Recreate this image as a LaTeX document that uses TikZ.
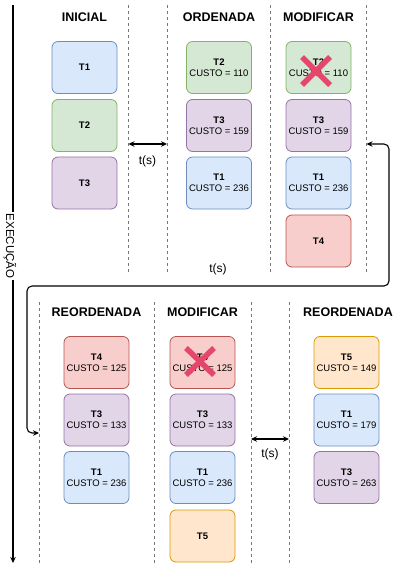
\documentclass[tikz,border=0pt]{standalone}
\usepackage{fontspec}
\setmainfont{Liberation Sans}
\usetikzlibrary{arrows.meta}
\definecolor{blueF}{HTML}{DAE8FC}\definecolor{blueD}{HTML}{6C8EBF}
\definecolor{greenF}{HTML}{D5E8D4}\definecolor{greenD}{HTML}{82B366}
\definecolor{purpF}{HTML}{E1D5E7}\definecolor{purpD}{HTML}{9673A6}
\definecolor{redF}{HTML}{F8CECC}\definecolor{redD}{HTML}{B85450}
\definecolor{orgF}{HTML}{FFE6CC}\definecolor{orgD}{HTML}{D79B00}
\definecolor{sepgray}{HTML}{777777}
\definecolor{xred}{HTML}{E6466C}
\begin{document}
\begin{tikzpicture}[x=1pt,y=-1pt,
  task/.style={draw, rounded corners=6pt, minimum width=65pt, minimum height=52pt,
    inner sep=0pt, align=center, font=\fontsize{9.5}{11}\selectfont, line width=0.8pt},
  tblue/.style={task, fill=blueF, draw=blueD},
  tgreen/.style={task, fill=greenF, draw=greenD},
  tpurp/.style={task, fill=purpF, draw=purpD},
  tred/.style={task, fill=redF, draw=redD},
  torg/.style={task, fill=orgF, draw=orgD},
  head/.style={font=\fontsize{12.5}{14}\selectfont\bfseries},
  tlabel/.style={font=\fontsize{12}{14}\selectfont},
  sepline/.style={draw=sepgray, dash pattern=on 3pt off 3pt, line width=0.9pt},
  tarrow/.style={{Stealth[length=6pt,width=5.5pt]}-{Stealth[length=6pt,width=5.5pt]}, line width=1.1pt},
  axisline/.style={-{Stealth[length=6pt,width=5.5pt]}, line width=1.2pt},
  xmark/.style={draw=xred, line width=5.5pt}]
\useasboundingbox (0,0) rectangle (392,564);

% separators
\foreach \x/\n in {128.5/a,167/b,270/c,366.5/d}{
  \coordinate (s\n1) at (\x,5); \coordinate (s\n2) at (\x,272);
  \draw[sepline] (s\n1) -- (s\n2);}
\foreach \x/\n in {39/e,154/f,251/g,289/h}{
  \coordinate (s\n1) at (\x,302); \coordinate (s\n2) at (\x,564);
  \draw[sepline] (s\n1) -- (s\n2);}

% headings
\node[head] (h1) at (84.5,17) {INICIAL};
\node[head] (h2) at (219,17) {ORDENADA};
\node[head] (h3) at (318.5,17) {MODIFICAR};
\node[head] (h4) at (96.5,312) {REORDENADA};
\node[head] (h5) at (202.5,312) {MODIFICAR};
\node[head] (h6) at (348,312) {REORDENADA};

% initial queue
\node[tblue]  (i1) at (84.5,67.5)  {\textbf{T1}};
\node[tgreen] (i2) at (84.5,125.5) {\textbf{T2}};
\node[tpurp]  (i3) at (84.5,183)   {\textbf{T3}};

% ordered queue
\node[tgreen] (o1) at (219,67.5)  {\textbf{T2}\\CUSTO = 110};
\node[tpurp]  (o2) at (219,125.5) {\textbf{T3}\\CUSTO = 159};
\node[tblue]  (o3) at (219,183)   {\textbf{T1}\\CUSTO = 236};

% modified queue
\node[tgreen] (m1) at (318.5,67.5)  {\textbf{T2}\\CUSTO = 110};
\node[tpurp]  (m2) at (318.5,125.5) {\textbf{T3}\\CUSTO = 159};
\node[tblue]  (m3) at (318.5,183)   {\textbf{T1}\\CUSTO = 236};
\node[tred]   (m4) at (318.5,241)   {\textbf{T4}};
\draw[xmark] (302,57) -- (330,85) (302,85) -- (330,57);

% reordered queue
\node[tred]  (r1) at (96.5,362.5) {\textbf{T4}\\CUSTO = 125};
\node[tpurp] (r2) at (96.5,420)   {\textbf{T3}\\CUSTO = 133};
\node[tblue] (r3) at (96.5,477.5) {\textbf{T1}\\CUSTO = 236};

% second modification
\node[tred]  (n1) at (202.5,362.5) {\textbf{T4}\\CUSTO = 125};
\node[tpurp] (n2) at (202.5,420)   {\textbf{T3}\\CUSTO = 133};
\node[tblue] (n3) at (202.5,477.5) {\textbf{T1}\\CUSTO = 236};
\node[torg]  (n4) at (202.5,536)   {\textbf{T5}};
\draw[xmark] (186,348) -- (214,375) (186,375) -- (214,348);

% final reordered queue
\node[torg]  (f1) at (346.5,362.5) {\textbf{T5}\\CUSTO = 149};
\node[tblue] (f2) at (346.5,420)   {\textbf{T1}\\CUSTO = 179};
\node[tpurp] (f3) at (346.5,477.5) {\textbf{T3}\\CUSTO = 263};

% time intervals
\coordinate (ta1) at (128.5,144); \coordinate (ta2) at (167,144);
\draw[tarrow] (ta1) -- (ta2);
\node[tlabel] (tl1) at (147.5,161) {t(s)};
\node[tlabel] (tl2) at (218,269) {t(s)};
\coordinate (tb1) at (251,439); \coordinate (tb2) at (289,439);
\draw[tarrow] (tb1) -- (tb2);
\node[tlabel] (tl3) at (270,454) {t(s)};

% feedback loop
\coordinate (la) at (366.5,144); \coordinate (lb) at (39,433);
\draw[tarrow, rounded corners=5pt] (la) -| (389,286) -| (27,433) -- (lb);

% execution axis
\coordinate (ax1) at (13,5); \coordinate (ax2) at (13,563);
\draw[axisline] (ax1) -- (ax2);
\node[rotate=-90, fill=white, inner sep=1.5pt, font=\fontsize{11.5}{13}\selectfont] (axl) at (10,246) {EXECUÇÃO};
\end{tikzpicture}
\end{document}
